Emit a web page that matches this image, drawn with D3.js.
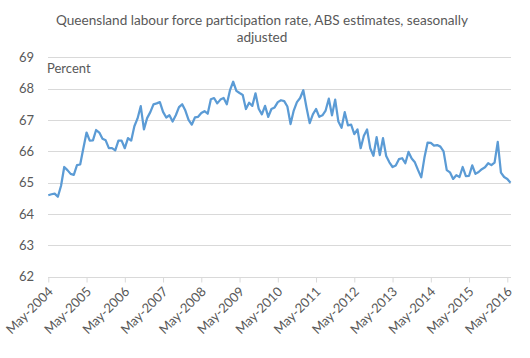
<!DOCTYPE html>
<html><head><meta charset="utf-8">
<script src="https://cdn.jsdelivr.net/npm/d3@7"></script>
<style>body{margin:0;background:#fff;} svg{display:block;}</style>
</head><body>
<svg id="c" width="530" height="358"></svg>
<script>
const titleLines = ["Queensland labour force participation rate, ABS estimates, seasonally", "adjusted"];
const yTicks = [62, 63, 64, 65, 66, 67, 68, 69];
const tickMonths = [0, 12, 24, 36, 48, 60, 72, 84, 96, 108, 120, 132, 144];
const tickLabels = ["May-2004","May-2005","May-2006","May-2007","May-2008","May-2009","May-2010","May-2011","May-2012","May-2013","May-2014","May-2015","May-2016"];
// Monthly participation rate, May 2004 .. Jun 2016
const rate = [
64.60,64.63,64.65,64.55,64.90,65.50,65.40,65.28,65.25,65.56,65.58,66.10,
66.60,66.34,66.35,66.68,66.60,66.40,66.35,66.10,66.10,66.03,66.34,66.34,
66.10,66.42,66.34,66.80,67.05,67.44,66.70,67.06,67.25,67.50,67.53,67.57,
67.26,67.08,67.15,66.95,67.15,67.41,67.50,67.30,67.00,66.85,67.08,67.10,
67.22,67.28,67.20,67.66,67.70,67.53,67.65,67.70,67.50,67.95,68.22,67.93,
67.86,67.80,67.35,67.55,67.45,67.85,67.36,67.18,67.45,67.10,67.35,67.40,
67.57,67.63,67.60,67.43,66.87,67.30,67.57,67.70,67.95,67.40,66.90,67.18,
67.35,67.10,67.15,67.30,67.68,67.15,67.65,66.95,66.75,67.25,66.83,66.85,
66.55,66.70,66.10,66.50,66.70,66.10,65.86,66.45,65.88,66.42,65.85,65.65,
65.50,65.55,65.75,65.78,65.62,65.98,65.77,65.65,65.40,65.17,65.80,66.28,
66.27,66.18,66.20,66.15,66.00,65.40,65.33,65.12,65.24,65.18,65.50,65.21,
65.22,65.55,65.28,65.34,65.43,65.49,65.62,65.56,65.64,66.30,65.32,65.18,
65.12,65.00];

const svg = d3.select("#c");
const x = d3.scaleLinear().domain([0, rate.length - 1]).range([48.3, 510.5]);
const y = d3.scaleLinear().domain([62, 69]).range([276.7, 57.3]);
const textCol = "#595959", gridCol = "#d9d9d9";
const font = "Lato, 'Open Sans', sans-serif";

// title
svg.append("g").selectAll("text").data(titleLines).join("text")
  .attr("x", 262).attr("y", (d, i) => 25 + i * 17)
  .attr("text-anchor", "middle").attr("font-family", font)
  .attr("font-size", 13.6).attr("fill", textCol).text(d => d);

// gridlines
svg.append("g").selectAll("line").data(yTicks.filter(v => v > 62)).join("line")
  .attr("x1", 48).attr("x2", 511)
  .attr("y1", d => Math.round(y(d)) + 0.5).attr("y2", d => Math.round(y(d)) + 0.5)
  .attr("stroke", gridCol).attr("stroke-width", 1);

// y axis labels
const ya = svg.append("g").attr("transform", "translate(40,0)")
  .call(d3.axisLeft(y).tickValues(yTicks).tickSize(0).tickPadding(6).tickFormat(d3.format("d")));
ya.select(".domain").remove();
ya.selectAll("text").attr("font-family", font).attr("font-size", 13).attr("fill", textCol);

// x axis
const xa = svg.append("g").attr("transform", `translate(0,${Math.round(y(62)) + 0.5})`)
  .call(d3.axisBottom(x).tickValues(tickMonths).tickSize(5)
    .tickFormat((d, i) => tickLabels[i]));
xa.select(".domain").attr("d", "M48,0H511").attr("stroke", gridCol);
xa.selectAll(".tick line").attr("stroke", gridCol);
xa.selectAll(".tick text")
  .attr("font-family", font).attr("font-size", 13).attr("fill", textCol)
  .attr("text-anchor", "end").attr("dy", 0)
  .attr("transform", "translate(5,15) rotate(-45)").attr("y", 0).attr("x", 0);

// unit label
svg.append("text").attr("x", 47).attr("y", 73).attr("font-family", font)
  .attr("font-size", 13).attr("fill", textCol).text("Percent");

// line
svg.append("path").datum(rate)
  .attr("d", d3.line().x((d, i) => x(i)).y(d => y(d)))
  .attr("fill", "none").attr("stroke", "#5b9bd5").attr("stroke-width", 2.25)
  .attr("stroke-linejoin", "round");
</script>
</body></html>
